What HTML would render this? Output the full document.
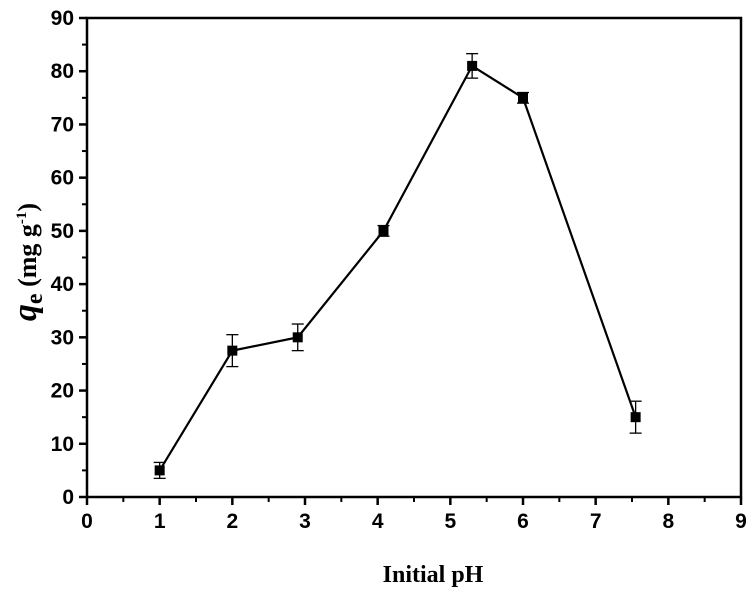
<!DOCTYPE html>
<html><head><meta charset="utf-8"><style>
body{margin:0;background:#fff;}
svg{display:block;}
text{font-family:"Liberation Sans",Arial,sans-serif;font-weight:bold;fill:#000;}
</style></head><body>
<svg id="chart" width="756" height="598" viewBox="0 0 756 598"></svg>
<script>
const phValues=[1,2,2.9,4.08,5.3,6,7.55];
const qeValues=[5,27.5,30,50,81,75,15];
const errValues=[1.5,3,2.5,1,2.3,1,3];
const xTicks=[0,1,2,3,4,5,6,7,8,9];
const yTicks=[0,10,20,30,40,50,60,70,80,90];
const NS='http://www.w3.org/2000/svg';
const svg=document.getElementById('chart');
const X0=87,X1=741,Y0=497,Y1=18;
const sx=v=>X0+(v-0)/(9-0)*(X1-X0);
const sy=v=>Y0-(v-0)/(90-0)*(Y0-Y1);
function mk(t,a,p){const e=document.createElementNS(NS,t);for(const k in a)e.setAttribute(k,a[k]);(p||svg).appendChild(e);return e;}
const frame=mk('rect',{x:X0,y:Y1,width:X1-X0,height:Y0-Y1,fill:'none',stroke:'#000','stroke-width':2.5});


const xg=mk('g',{});


xTicks.forEach((v,i)=>{
  mk('line',{x1:sx(v),x2:sx(v),y1:Y0,y2:Y0+8,stroke:'#000','stroke-width':2.5},xg);
  if(i<xTicks.length-1) mk('line',{x1:sx(v+0.5),x2:sx(v+0.5),y1:Y0,y2:Y0+5,stroke:'#000','stroke-width':2},xg);
  const t=mk('text',{x:sx(v),y:Y0+31,'text-anchor':'middle','font-size':21},xg);t.textContent=v;
  
  
});
const yg=mk('g',{});


yTicks.forEach((v,i)=>{
  mk('line',{x1:X0-8,x2:X0,y1:sy(v),y2:sy(v),stroke:'#000','stroke-width':2.5},yg);
  if(i<yTicks.length-1) mk('line',{x1:X0-5,x2:X0,y1:sy(v+5),y2:sy(v+5),stroke:'#000','stroke-width':2},yg);
  const t=mk('text',{x:X0-13,y:sy(v)+7,'text-anchor':'end','font-size':21},yg);t.textContent=v;
  
  
});
const xt=mk('text',{x:433,y:582,'text-anchor':'middle','font-size':24,style:'font-family:"Liberation Serif",serif'});
xt.textContent='Initial pH';


const yt=mk('text',{transform:'translate(36,262) rotate(-90)','text-anchor':'middle','font-size':26,style:'font-family:"Liberation Serif",serif'});
yt.innerHTML='<tspan font-style="italic" font-size="34">q</tspan><tspan font-size="24" dy="6">e</tspan><tspan dy="-6"> (mg g</tspan><tspan font-size="15" dy="-10">-1</tspan><tspan dy="10">)</tspan>';


const line=mk('polyline',{points:phValues.map((p,i)=>sx(p)+','+sy(qeValues[i])).join(' '),fill:'none',stroke:'#000','stroke-width':2.2});


phValues.forEach((p,i)=>{
  const g=mk('g',{});
  
  
  const x=sx(p),yh=sy(qeValues[i]+errValues[i]),yl=sy(qeValues[i]-errValues[i]);
  mk('line',{x1:x,x2:x,y1:yh,y2:yl,stroke:'#000','stroke-width':1.3},g);
  mk('line',{x1:x-6,x2:x+6,y1:yh,y2:yh,stroke:'#000','stroke-width':1.3},g);
  mk('line',{x1:x-6,x2:x+6,y1:yl,y2:yl,stroke:'#000','stroke-width':1.3},g);
  mk('rect',{x:x-5,y:sy(qeValues[i])-5,width:10,height:10,fill:'#000'},g);
});
</script>
</body></html>
